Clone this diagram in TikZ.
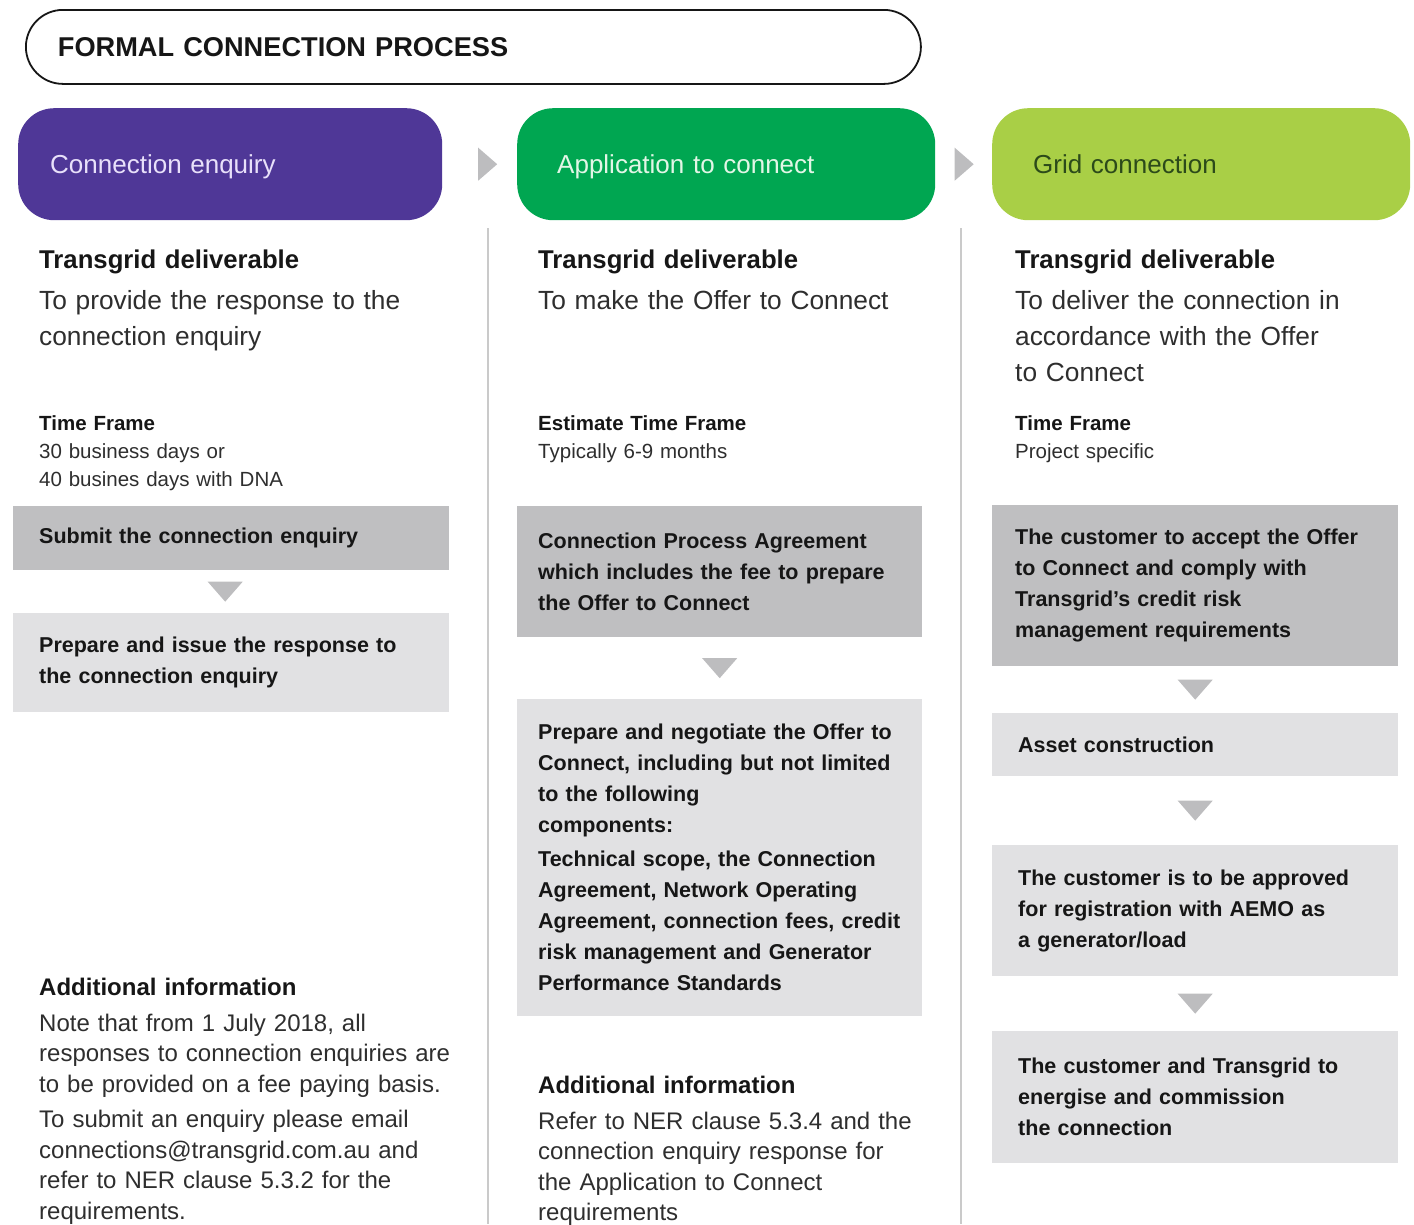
\documentclass[tikz,border=0pt]{standalone}
\usepackage{fontspec}
\setmainfont{Liberation Sans}
\usetikzlibrary{calc}
\definecolor{purp}{HTML}{4F3797}
\definecolor{grn}{HTML}{00A651}
\definecolor{lime}{HTML}{A9CF46}
\definecolor{dgray}{HTML}{BFBFC1}
\definecolor{lgray}{HTML}{E1E1E3}
\definecolor{trigray}{HTML}{BDBDBF}
\definecolor{sepgray}{HTML}{CACACA}
\definecolor{txt}{HTML}{161616}
\definecolor{bodytxt}{HTML}{2E2E2E}
\definecolor{hdrA}{HTML}{E8E0FA}
\definecolor{hdrB}{HTML}{E2F6E6}
\definecolor{hdrC}{HTML}{2C4A1A}
\newcommand\dtri[3][0]{\fill[tri] ($(#2.south)!0.5!(#3.north)+(#1-17.5,-10)$) -- ++(35,0) -- ++(-17.5,20) -- cycle;}
\newcommand\rtri[3][0]{\fill[tri] ($(#2.east)!0.5!(#3.west)+(#1-9.5,-16.5)$) -- ++(0,33) -- ++(19,-16.5) -- cycle;}
\begin{document}
\begin{tikzpicture}[x=1pt,y=-1pt,
  titlebox/.style={draw=txt, line width=1.8pt, rounded corners=37pt, minimum width=895pt, minimum height=74pt,
    anchor=north west, inner xsep=32pt, inner ysep=0pt, text width=831pt, align=left, text depth=0pt,
    text=txt, font=\fontsize{27.2}{30}\selectfont\bfseries},
  hdr/.style={rounded corners=36pt, minimum height=112pt, anchor=north west, inner ysep=0pt,
    align=left, text depth=0pt, font=\fontsize{26}{30}\selectfont},
  deliv/.style={anchor=base west, inner sep=0pt, text width=400pt, align=left, text=txt,
    font=\fontsize{25.7}{36}\selectfont\bfseries},
  body/.style={anchor=base west, inner sep=0pt, text width=420pt, align=left, text=bodytxt,
    font=\fontsize{26.3}{36}\selectfont},
  tfh/.style={anchor=base west, inner sep=0pt, text width=400pt, align=left, text=txt,
    font=\fontsize{20.5}{28}\selectfont\bfseries},
  tfb/.style={anchor=base west, inner sep=0pt, text width=400pt, align=left, text=bodytxt,
    font=\fontsize{20.5}{28}\selectfont},
  addh/.style={anchor=base west, inner sep=0pt, text width=420pt, align=left, text=txt,
    font=\fontsize{24}{30}\selectfont\bfseries},
  addb/.style={anchor=base west, inner sep=0pt, text width=440pt, align=left, text=bodytxt,
    font=\fontsize{24}{30.5}\selectfont},
  stepbox/.style={anchor=north west, inner ysep=0pt, align=left, text=txt,
    font=\fontsize{21.5}{31}\selectfont\bfseries},
  dbox/.style={stepbox, fill=dgray},
  lbox/.style={stepbox, fill=lgray},
  tri/.style={fill=trigray},
  sep/.style={draw=sepgray, line width=2pt}
]
\useasboundingbox (0,0) rectangle (1414,1224);

% title
\node[titlebox] (title) at (25,9) {FORMAL CONNECTION PROCESS};

% headers
\node[hdr, fill=purp, text=hdrA, minimum width=424pt, inner xsep=32pt, text width=360pt] (h1) at (18,108) {Connection enquiry};
\node[hdr, fill=grn, text=hdrB, minimum width=418pt, inner xsep=40pt, text width=338pt] (h2) at (517,108) {Application to connect};
\node[hdr, fill=lime, text=hdrC, minimum width=418pt, inner xsep=41pt, text width=336pt] (h3) at (992,108) {Grid connection};
\rtri[8]{h1}{h2}
\rtri[0.5]{h2}{h3}

% separators
\coordinate (s1t) at (488,228);
\coordinate (s1b) at (488,1224);
\coordinate (s2t) at (961,228);
\coordinate (s2b) at (961,1224);
\draw[sep] (s1t) -- (s1b);
\draw[sep] (s2t) -- (s2b);

% column 1
\node[deliv] (d1) at (39,268) {Transgrid deliverable};
\node[body] (b1) at (39,309) {To provide the response to the\\connection enquiry};
\node[tfh] (t1) at (39,430) {Time Frame};
\node[tfb] (tb1) at (39,458) {30 business days or\\40 busines days with DNA};
\node[dbox, minimum width=436pt, minimum height=64pt, inner xsep=26pt, text width=384pt] (c1a) at (13,506) {Submit the connection enquiry};
\node[lbox, minimum width=436pt, minimum height=99pt, inner xsep=26pt, text width=384pt] (c1b) at (13,613) {Prepare and issue the response to\\the connection enquiry};
\dtri[-6]{c1a}{c1b}
\node[addh] (a1) at (39,995) {Additional information};
\node[addb] (ab1) at (39,1031) {Note that from 1 July 2018, all\\responses to connection enquiries are\\to be provided on a fee paying basis.\\[5pt]To submit an enquiry please email\\connections@transgrid.com.au and\\refer to NER clause 5.3.2 for the\\requirements.};

% column 2
\node[deliv] (d2) at (538,268) {Transgrid deliverable};
\node[body] (b2) at (538,309) {To make the Offer to Connect};
\node[tfh] (t2) at (538,430) {Estimate Time Frame};
\node[tfb] (tb2) at (538,458) {Typically 6-9 months};
\node[dbox, minimum width=405pt, minimum height=131pt, inner xsep=21pt, text width=363pt] (c2a) at (517,506) {Connection Process Agreement\\which includes the fee to prepare\\the Offer to Connect};
\node[lbox, minimum width=405pt, minimum height=317pt, inner xsep=21pt, text width=363pt] (c2b) at (517,699) {Prepare and negotiate the Offer to\\Connect, including but not limited\\to the following\\components:\\[3pt]Technical scope, the Connection\\Agreement, Network Operating\\Agreement, connection fees, credit\\risk management and Generator\\Performance Standards};
\dtri{c2a}{c2b}
\node[addh] (a2) at (538,1093) {Additional information};
\node[addb] (ab2) at (538,1129) {Refer to NER clause 5.3.4 and the\\connection enquiry response for\\the Application to Connect\\requirements};

% column 3
\node[deliv] (d3) at (1015,268) {Transgrid deliverable};
\node[body] (b3) at (1015,309) {To deliver the connection in\\accordance with the Offer\\to Connect};
\node[tfh] (t3) at (1015,430) {Time Frame};
\node[tfb] (tb3) at (1015,458) {Project specific};
\node[dbox, minimum width=406pt, minimum height=161pt, inner xsep=23pt, text width=360pt] (c3a) at (992,505) {The customer to accept the Offer\\to Connect and comply with\\Transgrid’s credit risk\\management requirements};
\node[lbox, minimum width=406pt, minimum height=63pt, inner xsep=26pt, text width=354pt] (c3b) at (992,713) {Asset construction};
\node[lbox, minimum width=406pt, minimum height=131pt, inner xsep=26pt, text width=354pt] (c3c) at (992,845) {The customer is to be approved\\for registration with AEMO as\\a generator/load};
\node[lbox, minimum width=406pt, minimum height=132pt, inner xsep=26pt, text width=354pt] (c3d) at (992,1031) {The customer and Transgrid to\\energise and commission\\the connection};
\dtri{c3a}{c3b}
\dtri{c3b}{c3c}
\dtri{c3c}{c3d}
\end{tikzpicture}
\end{document}
